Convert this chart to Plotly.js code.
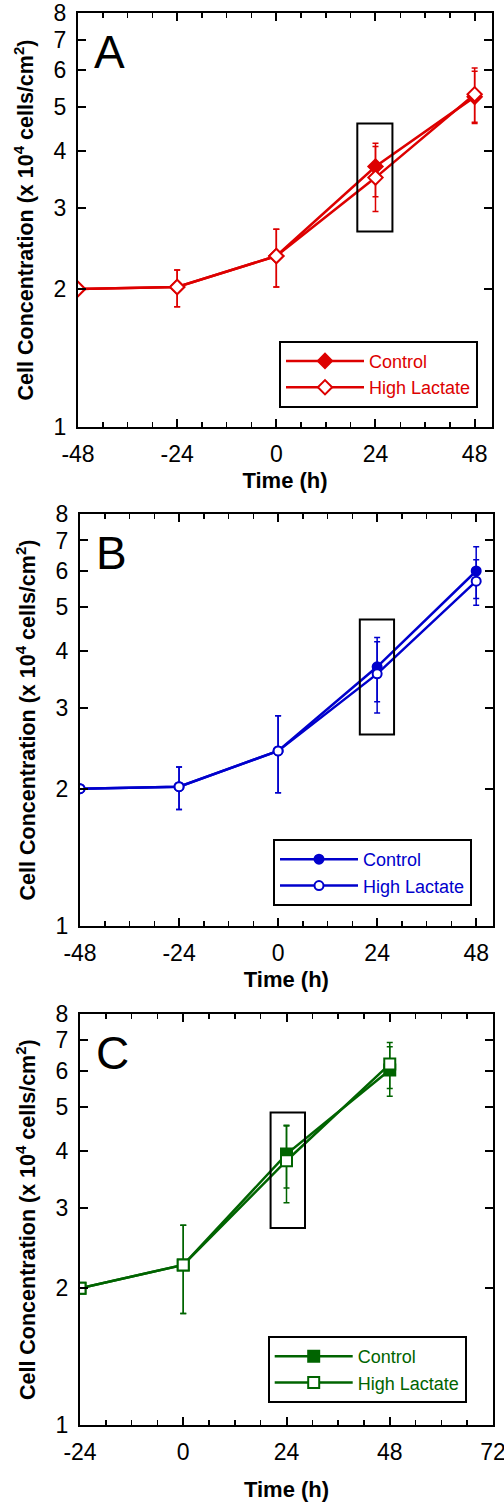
<!DOCTYPE html>
<html>
<head>
<meta charset="utf-8">
<script src="https://cdn.plot.ly/plotly-3.0.1.min.js"></script>
<style>html,body{margin:0;padding:0;background:#fff;}#chart{width:504px;height:1502px;}</style>
</head>
<body>
<div id="chart"></div>
<script>
// ---- Data ----
const seriesNames = ["Control", "High Lactate"];
const timeAB = [-48, -24, 0, 24, 48];
const timeC = [-24, 0, 24, 48];

// Panel A (red, diamonds)
const A_control = [2.0, 2.02, 2.36, 3.70, 5.25];
const A_control_errPlus = [0, 0.18, 0.34, 0.46, 0.72];
const A_control_errMinus = [0, 0.19, 0.34, 0.52, 0.66];
const A_lactate = [2.0, 2.02, 2.36, 3.50, 5.32];
const A_lactate_errPlus = [0, 0.18, 0.34, 0.59, 0.75];
const A_lactate_errMinus = [0, 0.19, 0.34, 0.55, 0.70];

// Panel B (blue, circles)
const B_control = [2.0, 2.02, 2.42, 3.70, 6.00];
const B_control_errPlus = [0, 0.21, 0.47, 0.59, 0.78];
const B_control_errMinus = [0, 0.22, 0.46, 0.60, 0.78];
const B_lactate = [2.0, 2.02, 2.42, 3.57, 5.70];
const B_lactate_errPlus = [0, 0.21, 0.47, 0.63, 0.65];
const B_lactate_errMinus = [0, 0.22, 0.46, 0.64, 0.65];

// Panel C (green, squares)
const C_control = [2.0, 2.25, 3.94, 6.03];
const C_control_errPlus = [0, 0.50, 0.62, 0.75];
const C_control_errMinus = [0, 0.49, 0.62, 0.75];
const C_lactate = [2.0, 2.25, 3.81, 6.21];
const C_lactate_errPlus = [0, 0.50, 0.73, 0.72];
const C_lactate_errMinus = [0, 0.49, 0.73, 0.72];

// Highlight boxes around the 24 h points [x0, x1, y0, y1]
const boxA = [19.6, 28.1, 2.67, 4.59];
const boxB = [19.8, 28.1, 2.63, 4.70];
const boxC = [20.3, 28.3, 2.71, 4.86];

// Tick labels
const xTicksAB = [-48, -24, 0, 24, 48];
const xTickTextAB = ["-48", "-24", "0", "24", "48"];
const xTicksC = [-24, 0, 24, 48, 72];
const xTickTextC = ["-24", "0", "24", "48", "72"];
const xMinorStep = 6;
const yTickVals = [1, 2, 3, 4, 5, 6, 7, 8];
const yTickText = ["1", "2", "3", "4", "5", "6", "7", "8"];
const panelLabels = ["A", "B", "C"];
const xTitle = "Time (h)";
const yTitle = "Cell Concentration (x 10<sup>4</sup> cells/cm<sup>2</sup>)";

// ---- Styling ----
const RED = "#dd0000", BLUE = "#0000cc", GREEN = "#006400";
const FONT = "Liberation Sans, Arial, Helvetica, sans-serif";

function trace(x, y, ep, em, name, color, symbol, open, size, xa, ya, leg) {
  return {
    x: x, y: y, name: name, type: "scatter", mode: "lines+markers",
    xaxis: xa, yaxis: ya, legend: leg,
    line: {color: color, width: 2.5},
    marker: {symbol: symbol, size: size, color: open ? "#ffffff" : color,
             line: {color: color, width: 2}},
    error_y: {type: "data", symmetric: false, array: ep, arrayminus: em,
              color: color, thickness: 1.5, width: 3}
  };
}

const data = [
  trace(timeAB, A_control, A_control_errPlus, A_control_errMinus, seriesNames[0], RED, "diamond", false, 11, "x", "y", "legend"),
  trace(timeAB, A_lactate, A_lactate_errPlus, A_lactate_errMinus, seriesNames[1], RED, "diamond", true, 11, "x", "y", "legend"),
  trace(timeAB, B_control, B_control_errPlus, B_control_errMinus, seriesNames[0], BLUE, "circle", false, 9, "x2", "y2", "legend2"),
  trace(timeAB, B_lactate, B_lactate_errPlus, B_lactate_errMinus, seriesNames[1], BLUE, "circle", true, 9, "x2", "y2", "legend2"),
  trace(timeC, C_control, C_control_errPlus, C_control_errMinus, seriesNames[0], GREEN, "square", false, 11, "x3", "y3", "legend3"),
  trace(timeC, C_lactate, C_lactate_errPlus, C_lactate_errMinus, seriesNames[1], GREEN, "square", true, 11, "x3", "y3", "legend3")
];

const W = 504, H = 1502;
function px(v) { return v / W; }
function py(v) { return 1 - v / H; }

// tick positions every minor step (unlabelled) used as minor ticks
function minorVals(range) {
  const vals = [];
  const start = Math.ceil(range[0] / xMinorStep) * xMinorStep;
  for (let v = start; v <= range[1] + 1e-9; v += xMinorStep) vals.push(v);
  return vals;
}

function xaxis(dom, range, anchor, majors, majorText, standoff) {
  return {
    domain: dom, range: range, anchor: anchor,
    tickmode: "array", tickvals: majors, ticktext: majorText,
    ticks: "inside", ticklen: 8, tickwidth: 2, tickcolor: "#000",
    minor: {tickmode: "array", tickvals: minorVals(range), ticks: "inside", ticklen: 5, tickwidth: 1.5, tickcolor: "#000", showgrid: false},
    ticklabelstandoff: 5, ticklabeloverflow: "allow",
    showline: true, linewidth: 2, linecolor: "#000", mirror: "ticks",
    showgrid: false, zeroline: false,
    tickfont: {family: FONT, size: 23, color: "#000"},
    title: {text: xTitle, font: {family: FONT, size: 22, color: "#000", weight: "bold"}, standoff: standoff}
  };
}
function yaxis(dom, anchor) {
  return {
    domain: dom, anchor: anchor, type: "log", range: [0, Math.log10(8)],
    tickmode: "array", tickvals: yTickVals, ticktext: yTickText,
    ticks: "inside", ticklen: 8, tickwidth: 2, tickcolor: "#000",
    ticklabelstandoff: 5,
    showline: true, linewidth: 2, linecolor: "#000", mirror: "ticks",
    showgrid: false, zeroline: false,
    tickfont: {family: FONT, size: 23, color: "#000"},
    title: {text: yTitle, font: {family: FONT, size: 21.5, color: "#000", weight: "bold"}, standoff: 14}
  };
}
function legend(x, ytop, color) {
  return {
    x: x, y: ytop, xanchor: "left", yanchor: "top",
    bordercolor: "#000", borderwidth: 2, bgcolor: "#fff",
    font: {family: FONT, size: 18, color: color},
    itemwidth: 78, tracegroupgap: 0
  };
}
function box(b, xr, yr) {
  return {type: "rect", xref: xr, yref: yr, x0: b[0], x1: b[1], y0: b[2], y1: b[3],
          line: {color: "#000", width: 2}, fillcolor: "rgba(0,0,0,0)"};
}
function label(t, xr, yr) {
  return {text: t, xref: xr + " domain", yref: yr + " domain", x: 0.034, y: 0.906,
          xanchor: "left", yanchor: "middle", showarrow: false,
          font: {family: FONT, size: 46, color: "#000"}};
}

const layout = {
  width: W, height: H,
  margin: {l: 0, r: 0, t: 0, b: 0},
  paper_bgcolor: "#fff", plot_bgcolor: "#fff",
  showlegend: true,
  xaxis: xaxis([px(78), px(492)], [-48, 52.2], "y", xTicksAB, xTickTextAB, 7),
  yaxis: yaxis([py(427), py(13)], "x"),
  xaxis2: xaxis([px(80), px(492.7)], [-48, 52], "y2", xTicksAB, xTickTextAB, 7),
  yaxis2: yaxis([py(926), py(514)], "x2"),
  xaxis3: xaxis([px(80), px(493)], [-24, 72], "y3", xTicksC, xTickTextC, 18),
  yaxis3: yaxis([py(1425.3), py(1014)], "x3"),
  legend: legend(px(279), py(340.7), RED),
  legend2: legend(px(273), py(839), BLUE),
  legend3: legend(px(267.7), py(1336), GREEN),
  shapes: [box(boxA, "x", "y"), box(boxB, "x2", "y2"), box(boxC, "x3", "y3")],
  annotations: [label(panelLabels[0], "x", "y"), label(panelLabels[1], "x2", "y2"), label(panelLabels[2], "x3", "y3")]
};

Plotly.newPlot("chart", data, layout, {staticPlot: true, displayModeBar: false});
</script>
</body>
</html>
